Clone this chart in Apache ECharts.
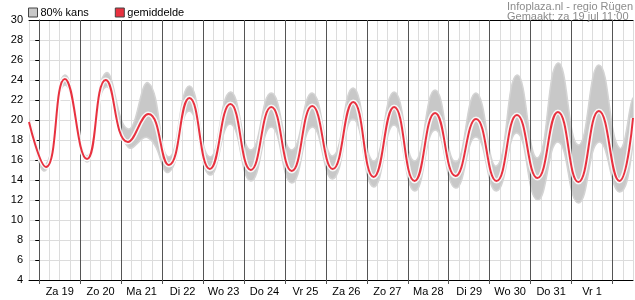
<!DOCTYPE html>
<html>
<head>
<meta charset="utf-8">
<script src="https://cdn.jsdelivr.net/npm/echarts@6/dist/echarts.min.js"></script>
<style>html,body{margin:0;padding:0;background:#fff}#c{width:635px;height:300px}</style>
</head>
<body>
<div id="c"></div>
<script>
// hours relative to za 19 jul 00:00
const hours = [-6, 4, 15, 28, 39, 52, 64, 76, 88, 100, 112, 124, 136, 148, 160, 172, 184, 196, 208, 220, 232, 244, 256, 268, 280, 292, 304, 316, 328, 340, 348];
const meanTemp = [19.8, 15.3, 24.1, 16.1, 24.0, 17.8, 20.6, 15.5, 22.2, 15.1, 21.6, 15.0, 21.3, 14.9, 21.4, 15.1, 21.8, 14.3, 21.3, 13.9, 20.7, 14.4, 20.1, 13.9, 20.5, 14.2, 20.8, 13.8, 20.9, 13.9, 20.2];
const upper80 = [20.1, 15.6, 24.5, 16.4, 24.7, 19.1, 23.7, 16.3, 23.4, 16.3, 22.8, 17.0, 22.7, 17.0, 22.7, 16.4, 23.2, 15.9, 22.8, 15.9, 23.0, 15.8, 22.7, 15.4, 24.5, 16.2, 25.7, 17.5, 25.5, 17.2, 22.2];
const lower80 = [19.5, 15.0, 23.5, 15.8, 23.3, 17.3, 18.2, 14.8, 20.9, 14.5, 19.6, 13.9, 19.3, 13.7, 19.3, 14.1, 20.1, 13.3, 19.5, 12.9, 19.0, 13.2, 18.3, 12.9, 18.7, 12.0, 17.8, 11.7, 17.8, 12.8, 17.6];
const dayBoundaries = [0, 24, 48, 72, 96, 120, 144, 168, 192, 216, 240, 264, 288, 312, 336];
const dayLabelHours = [12, 36, 60, 84, 108, 132, 156, 180, 204, 228, 252, 276, 300, 324];
const dayLabels = ['Za 19', 'Zo 20', 'Ma 21', 'Di 22', 'Wo 23', 'Do 24', 'Vr 25', 'Za 26', 'Zo 27', 'Ma 28', 'Di 29', 'Wo 30', 'Do 31', 'Vr 1'];
const yTicks = {min: 4, max: 30, interval: 2};
const xRange = {min: -6, max: 348};

const FONT = 'Liberation Sans, Arial, sans-serif';
const bandData = hours.map((h, i) => [h, lower80[i], upper80[i]]);
const meanData = hours.map((h, i) => [h, meanTemp[i]]);

const chart = echarts.init(document.getElementById('c'), null, {renderer: 'canvas'});
chart.setOption({
  animation: false,
  title: {
    text: 'Infoplaza.nl - regio Rügen\nGemaakt: za 19 jul 11:00',
    right: 2, top: 2, padding: 0,
    textStyle: {fontFamily: FONT, fontSize: 11, fontWeight: 'normal', color: '#8c8c8c', lineHeight: 10}
  },
  legend: {
    left: 28, top: 7, padding: 0, itemGap: 26, itemWidth: 9, itemHeight: 9,
    textStyle: {fontFamily: FONT, fontSize: 11, color: '#000', padding: [0, 0, 0, -2]},
    data: [
      {name: '80% kans', icon: 'rect', itemStyle: {color: '#c8c8c8', borderColor: '#444', borderWidth: 1}},
      {name: 'gemiddelde', icon: 'rect', itemStyle: {color: '#e8313f', borderColor: '#444', borderWidth: 1}}
    ]
  },
  grid: {left: 29, right: 2, top: 20, bottom: 20, containLabel: false},
  xAxis: [
    {type: 'value', position: 'bottom', min: xRange.min, max: xRange.max, interval: 6,
     axisLine: {show: true, lineStyle: {color: '#000', width: 1}},
     axisTick: {show: false}, axisLabel: {show: false},
     splitLine: {show: true, lineStyle: {color: '#dcdcdc', width: 1}}},
    {type: 'value', position: 'bottom', min: xRange.min, max: xRange.max, interval: 6,
     axisLine: {show: false},
     axisTick: {show: true, customValues: dayBoundaries, length: 4, inside: false, lineStyle: {color: '#555'}},
     axisLabel: {show: true, customValues: dayLabelHours, margin: 6, fontFamily: FONT, fontSize: 11, color: '#000',
       formatter: v => { const i = dayLabelHours.indexOf(v); return i >= 0 ? dayLabels[i] : ''; }},
     splitLine: {show: false}},
    {type: 'value', position: 'top', min: xRange.min, max: xRange.max, interval: 6,
     axisLine: {show: true, lineStyle: {color: '#000', width: 1}},
     axisTick: {show: false}, axisLabel: {show: false}, splitLine: {show: false}}
  ],
  yAxis: {
    type: 'value', min: yTicks.min, max: yTicks.max, interval: yTicks.interval,
    axisLine: {show: true, lineStyle: {color: '#000'}},
    axisTick: {show: true, length: 4, lineStyle: {color: '#000'}},
    axisLabel: {fontFamily: FONT, fontSize: 11, color: '#000', margin: 6},
    splitLine: {show: true, lineStyle: {color: '#dcdcdc'}}
  },
  series: [
    {name: '80% kans', type: 'custom', data: bandData, clip: true, silent: true, z: 2,
     itemStyle: {color: '#c8c8c8'},
     encode: {x: 0, y: [1, 2]},
     renderItem: function (params, api) {
       if (params.dataIndex !== 0) return null;
       const up = bandData.map(d => api.coord([d[0], d[2]]));
       const lo = bandData.map(d => api.coord([d[0], d[1]])).reverse();
       return {
         type: 'polygon',
         shape: {points: up.concat(lo), smooth: 0.5},
         style: {fill: '#c8c8c8', stroke: '#d4d4d4', lineWidth: 1.5}
       };
     }},
    {name: 'halo', type: 'line', data: meanData, smooth: true, showSymbol: false, silent: true,
     lineStyle: {color: 'rgba(255,255,255,0.85)', width: 5}, z: 9,
     markLine: {symbol: 'none', silent: true, label: {show: false}, animation: false,
       lineStyle: {color: '#555', type: 'solid', width: 1},
       emphasis: {disabled: true},
       data: dayBoundaries.map(h => ({xAxis: h}))}},
    {name: 'gemiddelde', type: 'line', data: meanData, smooth: true, showSymbol: false, silent: true,
     lineStyle: {color: '#e8313f', width: 2}, itemStyle: {color: '#e8313f'}, z: 10}
  ]
});
</script>
</body>
</html>
